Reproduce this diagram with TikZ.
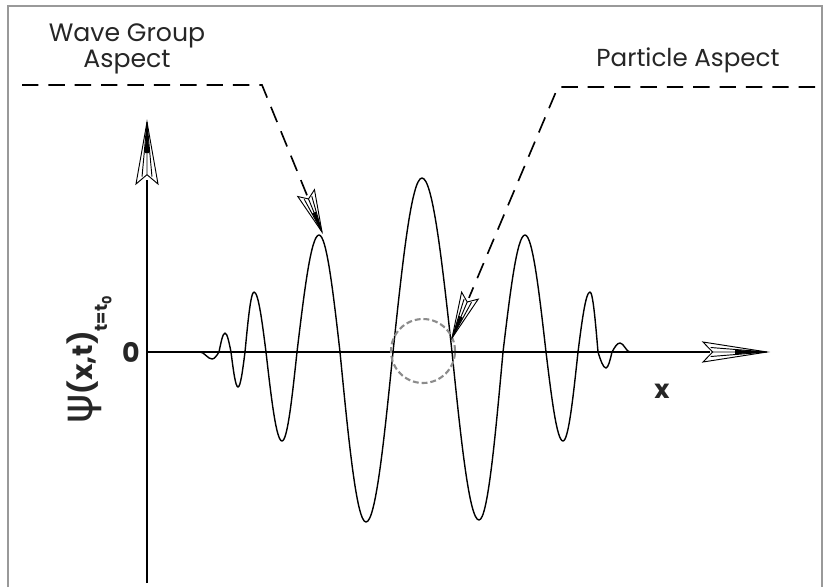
\documentclass[tikz,border=0pt]{standalone}
\usepackage{fontspec}
\usetikzlibrary{calc}
\setmainfont{Poppins}
\newfontfamily\psifont{DejaVu Sans}
\begin{document}
\begin{tikzpicture}[x=0.03cm,y=0.03cm,
  wave/.style={line width=1.2pt,line join=round},
  axisline/.style={line width=1.2pt},
  callout/.style={line width=1.4pt,dash pattern=on 14pt off 8.5pt},
  particle/.style={draw=gray!90,line width=1.8pt,dash pattern=on 5pt off 2.5pt},
  framecol/.style={draw=black!40,line width=1.5pt},
  fletchline/.style={line width=0.8pt,line join=miter},
  lbl/.style={inner sep=0pt,text=black!85},
  pics/fletch/.style 2 args={code={
    \fill[white] (0,0) -- (-#1,#2) -- (-0.85*#1,0) -- (-#1,-#2) -- cycle;
    \draw[fletchline] (0,0) -- (-#1,#2) -- (-0.85*#1,0) -- (-#1,-#2) -- cycle;
    \draw[fletchline] (0,0) -- (-0.88*#1,0.45*#2) (0,0) -- (-0.88*#1,-0.45*#2) (0,0) -- (-0.85*#1,0);
    \fill (0,0) -- (-0.5*#1,0.22*#2) -- (-0.5*#1,-0.22*#2) -- cycle;
  }}]
\useasboundingbox[fill=white] (0,0) rectangle (825,-587);
% frame
\draw[framecol] (8,-587) -- (8,-6) -- (822,-6) -- (822,-587);
% named points
\coordinate (ybot) at (147,-583);
\coordinate (ytip) at (147,-122);
\coordinate (ybase) at (147,-180);
\coordinate (xorg) at (147,-352);
\coordinate (xtip) at (767,-352);
\coordinate (xbase) at (710,-352);
\coordinate (lstart) at (22,-85);
\coordinate (lcorner) at (262,-85);
\coordinate (ltip) at (322,-232);
\coordinate (rstart) at (815,-87);
\coordinate (rcorner) at (558,-87);
\coordinate (rtip) at (452,-338);
% axes
\draw[axisline] (ybot) -- (ybase);
\draw[axisline] (xorg) -- (xbase);
\pic[rotate=90] at (ytip) {fletch={62}{11}};
\pic at (xtip) {fletch={64}{10}};
% wave packet
\begin{scope}[shift={(0,-352)}]
\draw[wave] (200,0) cos (206,-3.5) sin (212,-7) cos (219,0) sin (225,19) cos (231,0)
  sin (238,-35) cos (245,0) sin (254,60) cos (266,0) sin (282,-89) cos (297,0)
  sin (319,117) cos (340,0) sin (366,-170) cos (393,0) sin (422,174) cos (452,0)
  sin (479,-168) cos (503,0) sin (525,117) cos (546,0) sin (563,-89) cos (578,0)
  sin (590,60) cos (598,0) sin (606,-16) cos (612,0) sin (620,9) cos (625,4.5) sin (630,0);
\end{scope}
% particle circle
\node[particle,circle,minimum size=64*0.03cm,inner sep=0pt] (pc) at (423,-351) {};
% callouts
\draw[callout] (lstart) -- (lcorner) -- ($(ltip)!0.24!(lcorner)$);
\pic[rotate=-67.8] at (ltip) {fletch={42}{9}};
\draw[callout] (rstart) -- (rcorner) -- ($(rtip)!0.16!(rcorner)$);
\pic[rotate=-112.9] at (rtip) {fletch={46}{9}};
% labels
\node[lbl,align=center,font=\fontsize{21.5}{22.5}\selectfont] (wg) at (127,-49) {Wave Group\\Aspect};
\node[lbl,font=\fontsize{21}{22}\selectfont] (pa) at (688,-60) {Particle Aspect};
\node[lbl,font=\bfseries\fontsize{23}{23}\selectfont] (zero) at (131,-352) {0};
\node[lbl,font=\bfseries\fontsize{22}{22}\selectfont] (xl) at (662,-391) {x};
\node[lbl,rotate=90,font=\bfseries\fontsize{24}{24}\selectfont] (psi) at (89,-360)
  {{\psifont\mdseries\fontsize{38}{38}\selectfont ψ}(x,t)\raisebox{-13pt}{\fontsize{15}{15}\selectfont t=t\raisebox{-3.5pt}{\fontsize{11}{11}\selectfont 0}}};
\end{tikzpicture}
\end{document}
